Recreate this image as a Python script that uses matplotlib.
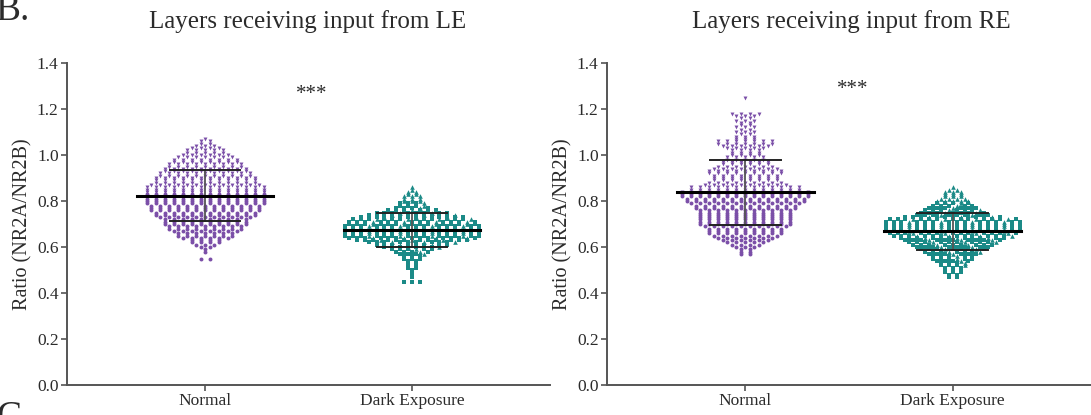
import numpy as np
import matplotlib.pyplot as plt

plt.rcParams['font.family'] = ['Liberation Serif', 'DejaVu Serif']

# NR2A/NR2B ratios, binned at 0.01: start value and number of sections per bin
le_normal_start = 0.55
le_normal_counts = [2, 0, 0, 1, 1, 2, 3, 4, 4, 6, 7, 7, 8, 9, 9, 10, 10, 10, 11, 12,
                    12, 13, 13, 13, 14, 14, 14, 14, 14, 14, 14, 14, 13, 12, 12, 12,
                    11, 11, 10, 10, 9, 9, 8, 8, 7, 6, 5, 5, 4, 3, 2, 2, 1]
le_dark_start = 0.45
le_dark_counts = [3, 0, 1, 1, 1, 1, 2, 2, 2, 2, 3, 3, 4, 5, 6, 8, 10, 12, 15, 17,
                  18, 18, 18, 18, 18, 17, 17, 16, 14, 12, 10, 7, 5, 4, 4, 3, 3, 3,
                  2, 2, 1, 1]
re_normal_start = 0.57
re_normal_counts = [2, 2, 2, 3, 4, 5, 6, 7, 8, 9, 9, 9, 10, 11, 11, 11, 11, 11, 11,
                    11, 12, 12, 13, 14, 14, 15, 15, 15, 13, 13, 10, 9, 8, 8, 8, 9,
                    9, 8, 7, 6, 6, 5, 5, 4, 4, 4, 5, 6, 7, 7, 3, 3, 2, 3, 2, 3, 2,
                    2, 3, 2, 3, 4, 0, 0, 0, 0, 0, 0, 1]
re_dark_start = 0.47
re_dark_counts = [2, 2, 3, 3, 3, 4, 4, 5, 6, 6, 7, 8, 9, 10, 11, 12, 13, 14, 16, 17,
                  18, 18, 18, 18, 18, 17, 13, 10, 9, 8, 7, 6, 5, 5, 4, 3, 3, 3, 2, 1]

groups = ['Normal', 'Dark Exposure']
titles = ['Layers receiving input from LE', 'Layers receiving input from RE']
purple = '#7b4fa8'
teal = '#1b8a87'
ink = '#2b2b2b'


def expand(start, counts):
    levels = np.round(start + 0.01 * np.arange(len(counts)), 2)
    return np.repeat(levels, counts)


def swarm(ax, vals, pos, color, markers, size, dx):
    xs, ys, ms = [], [], []
    for lv in np.unique(vals):
        n = int(np.sum(vals == lv))
        offs = (np.arange(n) - (n - 1) / 2) * dx
        for k, o in enumerate(offs):
            xs.append(pos + o)
            ys.append(lv)
            ms.append(markers(lv, k))
    xs, ys, ms = np.array(xs), np.array(ys), np.array(ms)
    for m in np.unique(ms):
        sel = ms == m
        ax.scatter(xs[sel], ys[sel], s=size, marker=m, color=color,
                   linewidths=0, zorder=2)
    # mean and SD
    mu, sd = vals.mean(), vals.std(ddof=1)
    ax.plot([pos - 0.33, pos + 0.33], [mu, mu], color='black', lw=2.2, zorder=4)
    ax.plot([pos, pos], [mu - sd, mu + sd], color='#555555', lw=1.3, zorder=3)
    for yy in (mu - sd, mu + sd):
        ax.plot([pos - 0.17, pos + 0.17], [yy, yy], color='#222222', lw=1.4, zorder=3)


def purple_marker(lv, k):
    return 'v' if lv >= 0.84 else 'o'


def teal_marker(lv, k):
    return '^' if (lv >= 0.8 or k % 4 == 3) else 's'


fig = plt.figure(figsize=(10.91, 4.15), dpi=100)
ax1 = fig.add_axes([67 / 1091, 30 / 415, 483 / 1091, 322 / 415])
ax2 = fig.add_axes([607 / 1091, 30 / 415, 484 / 1091, 322 / 415])

data = [
    (expand(le_normal_start, le_normal_counts), expand(le_dark_start, le_dark_counts)),
    (expand(re_normal_start, re_normal_counts), expand(re_dark_start, re_dark_counts)),
]

for ax, (normal, dark), title, star_y in zip([ax1, ax2], data, titles, [1.265, 1.285]):
    swarm(ax, normal, 0, purple, purple_marker, 8, 0.0435)
    swarm(ax, dark, 1, teal, teal_marker, 11, 0.038)
    ax.set_xlim(-0.667, 1.667)
    ax.set_ylim(0, 1.4)
    ax.set_yticks(np.arange(0, 1.41, 0.2))
    ax.set_yticklabels(['%.1f' % t for t in np.arange(0, 1.41, 0.2)])
    ax.set_xticks([0, 1])
    ax.set_xticklabels(groups)
    for s in ['top', 'right']:
        ax.spines[s].set_visible(False)
    for s in ['left', 'bottom']:
        ax.spines[s].set_color('#555555')
        ax.spines[s].set_linewidth(1.4)
    ax.tick_params(colors='#555555', labelcolor=ink, labelsize=12.5, length=4,
                   width=1.2, pad=2)
    ax.set_ylabel('Ratio (NR2A/NR2B)', fontsize=14.5, color=ink, labelpad=3)
    ax.text(0.517, star_y, '***', ha='center', va='center', fontsize=15, color=ink)

fig.text(308 / 1091, 1 - 22 / 415, titles[0], ha='center', va='center', fontsize=18, color=ink)
fig.text(851 / 1091, 1 - 22 / 415, titles[1], ha='center', va='center', fontsize=18, color=ink)
fig.text(-4 / 1091, 1 - 20 / 415, 'B.', ha='left', va='baseline', fontsize=27, color=ink)
fig.text(-3 / 1091, -12 / 415, 'C', ha='left', va='baseline', fontsize=27, color=ink)

fig.savefig('out.png', dpi=100)
